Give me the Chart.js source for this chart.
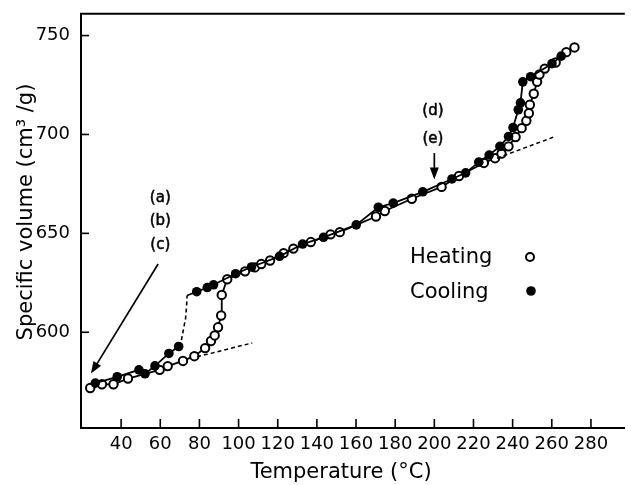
<!DOCTYPE html>
<html><head><meta charset="utf-8">
<script src="https://cdn.jsdelivr.net/npm/chart.js@4.4.1/dist/chart.umd.min.js"></script>
<style>html,body{margin:0;padding:0;background:#fff;}</style>
</head><body>
<canvas id="c" width="631" height="485"></canvas>
<script>
// ---- data ----
const heatingT = [24.2, 30.2, 36.1, 43.5, 59.7, 63.8, 71.6, 77.4, 82.9, 85.9, 87.8, 89.5, 91.1, 91.4, 94.2, 103.3, 108.3, 111.6, 116.1, 123.0, 128.0, 136.9, 147.0, 151.7, 170.2, 174.7, 188.5, 203.7, 212.6, 225.3, 231.0, 234.3, 237.9, 241.5, 244.6, 247.0, 248.3, 248.8, 250.8, 252.5, 253.7, 256.4, 262.0, 267.4, 271.6];
const heatingV = [571.8, 573.7, 573.7, 576.6, 581.0, 582.9, 585.5, 587.9, 592.0, 595.6, 598.4, 602.5, 608.5, 618.9, 626.8, 630.8, 632.8, 634.5, 636.3, 640.0, 642.3, 645.6, 649.5, 650.6, 658.5, 661.3, 667.5, 673.5, 679.0, 685.6, 688.0, 690.3, 694.0, 698.7, 703.2, 706.9, 710.7, 715.0, 720.6, 726.6, 730.3, 733.3, 736.4, 741.6, 744.0];
const coolingT = [26.8, 38.0, 49.1, 52.2, 57.3, 64.4, 69.4, 78.6, 84.0, 87.2, 98.5, 106.6, 120.9, 132.7, 143.4, 160.1, 171.4, 179.0, 194.1, 209.0, 216.0, 222.7, 228.0, 233.5, 237.9, 240.2, 242.9, 244.0, 245.2, 249.2, 260.1, 264.8];
const coolingV = [574.3, 577.5, 581.0, 579.0, 583.0, 589.3, 592.8, 620.5, 622.6, 624.0, 629.6, 633.0, 638.4, 644.6, 648.0, 654.3, 663.2, 665.3, 671.0, 677.5, 680.6, 686.0, 689.6, 694.0, 699.0, 703.5, 712.5, 716.0, 726.6, 729.2, 735.8, 739.6];
// dashed jump of the cooling curve (line vertices only)
const coolJumpT = [69.4, 70.6, 71.6, 72.9, 73.4, 73.7];
const coolJumpV = [592.8, 595.0, 600.2, 606.9, 612.7, 618.6];
// dashed extrapolation lines
const tangentLowT = [78.8, 107.0];
const tangentLowV = [587.6, 594.6];
const tangentHighT = [232.0, 261.0];
const tangentHighV = [688.0, 698.7];
// ticks and texts
const xTicks = [40, 60, 80, 100, 120, 140, 160, 180, 200, 220, 240, 260, 280];
const yTicks = [600, 650, 700, 750];
const seriesNames = ['Heating', 'Cooling'];
const xTitle = 'Temperature (\u00B0C)';
const yTitle = 'Specific volume (cm\u00B3 /g)';
const leftLabels = ['(a)', '(b)', '(c)'];
const rightLabels = ['(d)', '(e)'];

const pts = (T, V) => T.map((t, i) => ({x: t, y: V[i]}));
const coolLow = pts(coolingT, coolingV).filter(p => p.x < 70);
const coolHigh = [{x: coolJumpT[coolJumpT.length-1], y: coolJumpV[coolJumpV.length-1]}].concat(pts(coolingT, coolingV).filter(p => p.x > 70));

const FONT = 'DejaVu Sans';

const overlay = {
  id: 'overlay',
  afterDatasetsDraw(chart) {
    const {ctx, chartArea: a, scales: {x, y}} = chart;
    ctx.save();
    ctx.strokeStyle = '#000'; ctx.fillStyle = '#000';
    // top frame line
    ctx.lineWidth = 2;
    ctx.beginPath(); ctx.moveTo(a.left - 1, a.top); ctx.lineTo(a.right, a.top); ctx.stroke();
    // inward tick marks
    ctx.lineWidth = 1.6;
    xTicks.forEach(t => {
      const px = x.getPixelForValue(t);
      ctx.beginPath(); ctx.moveTo(px, a.bottom); ctx.lineTo(px, a.bottom - 9); ctx.stroke();
    });
    yTicks.forEach(v => {
      const py = y.getPixelForValue(v);
      ctx.beginPath(); ctx.moveTo(a.left, py); ctx.lineTo(a.left + 8, py); ctx.stroke();
    });
    // arrows
    const arrow = (t1, v1, t2, v2) => {
      const x1 = x.getPixelForValue(t1), y1 = y.getPixelForValue(v1);
      const x2 = x.getPixelForValue(t2), y2 = y.getPixelForValue(v2);
      const ang = Math.atan2(y2 - y1, x2 - x1);
      const hl = 12, hw = 4.5;
      ctx.lineWidth = 1.7;
      ctx.beginPath(); ctx.moveTo(x1, y1);
      ctx.lineTo(x2 - Math.cos(ang) * hl * 0.8, y2 - Math.sin(ang) * hl * 0.8); ctx.stroke();
      ctx.beginPath();
      ctx.moveTo(x2, y2);
      ctx.lineTo(x2 - Math.cos(ang) * hl - Math.sin(ang) * hw, y2 - Math.sin(ang) * hl + Math.cos(ang) * hw);
      ctx.lineTo(x2 - Math.cos(ang) * hl + Math.sin(ang) * hw, y2 - Math.sin(ang) * hl - Math.cos(ang) * hw);
      ctx.closePath(); ctx.fill();
    };
    arrow(58.9, 634.5, 24.6, 579.1);
    arrow(200, 690.6, 200, 677.2);
    // annotation labels
    ctx.font = '15px "' + FONT + '"';
    ctx.textAlign = 'center'; ctx.textBaseline = 'middle';
    ctx.lineWidth = 0.5;
    const lv = [668.0, 656.3, 644.2];
    leftLabels.forEach((s, i) => {
      const px = x.getPixelForValue(60), py = y.getPixelForValue(lv[i]);
      ctx.fillText(s, px, py); ctx.strokeText(s, px, py);
    });
    const rv = [711.6, 697.5];
    rightLabels.forEach((s, i) => {
      const px = x.getPixelForValue(199.3), py = y.getPixelForValue(rv[i]);
      ctx.fillText(s, px, py); ctx.strokeText(s, px, py);
    });
    // legend
    ctx.font = '21px "' + FONT + '"';
    ctx.textAlign = 'left';
    ctx.fillText(seriesNames[0], 410, 258);
    ctx.fillText(seriesNames[1], 410, 293);
    ctx.lineWidth = 2;
    ctx.beginPath(); ctx.arc(530, 257, 4, 0, Math.PI * 2); ctx.fillStyle = '#fff'; ctx.fill(); ctx.stroke();
    ctx.fillStyle = '#000';
    ctx.beginPath(); ctx.arc(531, 291, 4.8, 0, Math.PI * 2); ctx.fill();
    // axis titles
    ctx.font = '21px "' + FONT + '"';
    ctx.textAlign = 'center'; ctx.textBaseline = 'middle';
    ctx.fillText(xTitle, 341, 473);
    ctx.translate(27, 212); ctx.rotate(-Math.PI / 2);
    ctx.fillText(yTitle, 0, 0);
    ctx.restore();
  }
};

const openStyle = {pointRadius: 4.2, pointBorderWidth: 2, pointBackgroundColor: '#fff', pointBorderColor: '#000'};
const filledStyle = {pointRadius: 4.8, pointBorderWidth: 0, pointBackgroundColor: '#000', pointBorderColor: '#000'};

new Chart(document.getElementById('c'), {
  type: 'scatter',
  data: {
    datasets: [
      {label: 'tangent low', data: pts(tangentLowT, tangentLowV), showLine: true, borderColor: '#000', borderWidth: 1.5, borderDash: [4, 3], pointRadius: 0},
      {label: 'tangent high', data: pts(tangentHighT, tangentHighV), showLine: true, borderColor: '#000', borderWidth: 1.5, borderDash: [4, 3], pointRadius: 0},
      {label: 'cooling jump', data: pts(coolJumpT, coolJumpV), showLine: true, borderColor: '#000', borderWidth: 1.6, borderDash: [4, 3], pointRadius: 0},
      Object.assign({label: seriesNames[1], data: coolLow, showLine: true, borderColor: '#000', borderWidth: 1.8}, filledStyle),
      Object.assign({label: seriesNames[1] + ' high', data: coolHigh, showLine: true, borderColor: '#000', borderWidth: 1.8}, filledStyle,
        {pointRadius: ctx => ctx.dataIndex === 0 ? 0 : 4.8}),
      Object.assign({label: seriesNames[0], data: pts(heatingT, heatingV), showLine: true, borderColor: '#000', borderWidth: 1.8}, openStyle)
    ]
  },
  options: {
    responsive: false, animation: false, devicePixelRatio: 1,
    layout: {padding: {top: 12, left: 0, right: 0, bottom: 0}},
    plugins: {legend: {display: false}, tooltip: {enabled: false}},
    elements: {line: {tension: 0}},
    scales: {
      x: {
        type: 'linear', position: 'bottom', min: 19.5, max: 297.3,
        grid: {display: false},
        border: {display: true, color: '#000', width: 2},
        ticks: {color: '#000', font: {family: FONT, size: 18}, padding: -2, maxRotation: 0, autoSkip: false},
        afterBuildTicks: s => { s.ticks = xTicks.map(v => ({value: v})); },
        afterFit: s => { s.height = 57; }
      },
      y: {
        type: 'linear', position: 'left', min: 551.6, max: 761,
        grid: {display: false},
        border: {display: true, color: '#000', width: 2},
        ticks: {color: '#000', font: {family: FONT, size: 18}, padding: 3},
        afterBuildTicks: s => { s.ticks = yTicks.map(v => ({value: v})); },
        afterFit: s => { s.width = 81; }
      }
    }
  },
  plugins: [overlay]
});
</script>
</body></html>
